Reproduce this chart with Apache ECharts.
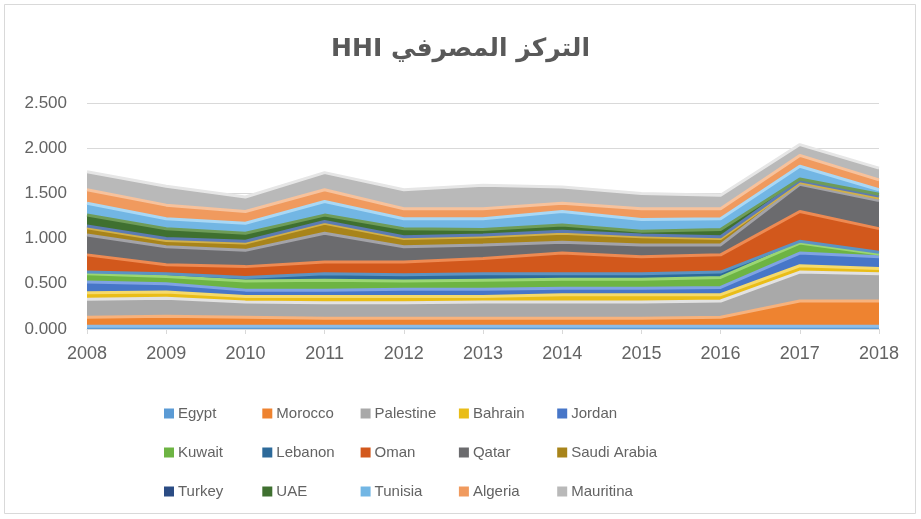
<!DOCTYPE html>
<html>
<head>
<meta charset="utf-8">
<script src="https://cdn.jsdelivr.net/npm/echarts@6/dist/echarts.min.js"></script>
<style>
  html, body { margin: 0; padding: 0; background: #ffffff; }
  #chart { width: 921px; height: 519px; }
</style>
</head>
<body>
<div id="chart"></div>
<script>
// Banking concentration (HHI) by country, stacked, 2008-2018
const years = ['2008', '2009', '2010', '2011', '2012', '2013', '2014', '2015', '2016', '2017', '2018'];

const egypt     = [0.03, 0.03, 0.03, 0.03, 0.03, 0.03, 0.03, 0.03, 0.03, 0.03, 0.03];
const morocco   = [0.10, 0.11, 0.10, 0.09, 0.09, 0.09, 0.09, 0.09, 0.10, 0.28, 0.28];
const palestine = [0.20, 0.20, 0.17, 0.17, 0.17, 0.18, 0.18, 0.18, 0.18, 0.32, 0.30];
const bahrain   = [0.07, 0.07, 0.06, 0.07, 0.07, 0.06, 0.08, 0.08, 0.07, 0.07, 0.06];
const jordan    = [0.12, 0.09, 0.07, 0.07, 0.08, 0.08, 0.07, 0.07, 0.08, 0.14, 0.13];
const kuwait    = [0.09, 0.08, 0.10, 0.11, 0.09, 0.10, 0.10, 0.10, 0.11, 0.11, 0.03];
const lebanon   = [0.02, 0.03, 0.04, 0.07, 0.07, 0.07, 0.06, 0.06, 0.06, 0.02, 0.02];
const oman      = [0.19, 0.10, 0.12, 0.13, 0.14, 0.17, 0.23, 0.19, 0.19, 0.33, 0.26];
const qatar     = [0.22, 0.20, 0.18, 0.32, 0.17, 0.15, 0.12, 0.13, 0.11, 0.30, 0.31];
const saudi     = [0.08, 0.07, 0.08, 0.11, 0.09, 0.09, 0.10, 0.09, 0.07, 0.02, 0.03];
const turkey    = [0.02, 0.02, 0.02, 0.02, 0.02, 0.02, 0.02, 0.02, 0.02, 0.02, 0.02];
const uae       = [0.12, 0.11, 0.09, 0.07, 0.09, 0.06, 0.07, 0.04, 0.08, 0.02, 0.02];
const tunisia   = [0.13, 0.11, 0.11, 0.15, 0.11, 0.12, 0.15, 0.13, 0.12, 0.14, 0.05];
const algeria   = [0.15, 0.15, 0.13, 0.13, 0.11, 0.11, 0.09, 0.12, 0.11, 0.12, 0.11];
const mauritina = [0.20, 0.21, 0.16, 0.19, 0.21, 0.26, 0.18, 0.17, 0.15, 0.12, 0.13];

const seriesNames = ['Egypt', 'Morocco', 'Palestine', 'Bahrain', 'Jordan',
                     'Kuwait', 'Lebanon', 'Oman', 'Qatar', 'Saudi Arabia',
                     'Turkey', 'UAE', 'Tunisia', 'Algeria', 'Mauritina'];
const seriesData = [egypt, morocco, palestine, bahrain, jordan,
                    kuwait, lebanon, oman, qatar, saudi,
                    turkey, uae, tunisia, algeria, mauritina];

const titleText = 'HHI التركز المصرفي';

// Fill colours and the lighter rim drawn along each band's upper edge
const fills = ['#5B9BD5', '#EE8330', '#A9A9A9', '#E9BD18', '#4776C8',
               '#6DB443', '#2D6A9A', '#D2581C', '#6B6B6E', '#A8841A',
               '#2B4C84', '#3F7030', '#72B6E4', '#F09A5E', '#B9B9B9'];
const rims  = ['#8DBDE8', '#F7B27C', '#E2E2E2', '#F6DA6A', '#7FA3E3',
               '#9BD673', '#5C93C2', '#EE8A52', '#A3A3A8', '#D1B04A',
               '#5C7BB3', '#6E9C58', '#A9D8F5', '#F7C29C', '#E6E6E6'];

const font = "'Liberation Sans', Arial, sans-serif";
const textGray = '#636363';

const series = seriesNames.map((name, i) => ({
  name: name,
  type: 'line',
  stack: 'hhi',
  data: seriesData[i],
  symbol: 'none',
  smooth: false,
  itemStyle: { color: fills[i] },
  lineStyle: { color: rims[i], width: 3 },
  areaStyle: { color: fills[i], opacity: 1 },
  emphasis: { disabled: true },
  z: 2
}));

// Legend laid out as a 5 x 3 table of items
const legends = seriesNames.map((name, i) => ({
  data: [name],
  left: 159 + (i % 5) * 98.3,
  top: 401 + Math.floor(i / 5) * 39,
  orient: 'horizontal',
  itemWidth: 10,
  itemHeight: 10,
  itemGap: 4,
  icon: 'rect',
  selectedMode: false,
  textStyle: { color: textGray, fontSize: 15, fontFamily: font, padding: [0, 0, 0, -1] }
}));

const chart = echarts.init(document.getElementById('chart'), null, { renderer: 'canvas' });
chart.setOption({
  backgroundColor: '#ffffff',
  animation: false,
  title: {
    text: titleText,
    left: 'center',
    top: 32,
    textStyle: { color: '#595959', fontSize: 25, fontWeight: 'bold', fontFamily: "'DejaVu Sans', 'Liberation Sans', sans-serif" }
  },
  legend: legends,
  grid: { left: 87, right: 42, top: 103, bottom: 190, containLabel: false },
  xAxis: {
    type: 'category',
    data: years,
    boundaryGap: false,
    axisLine: { lineStyle: { color: '#d9d9d9', width: 1 } },
    axisTick: { show: true, alignWithLabel: true, length: 5, lineStyle: { color: '#d9d9d9' } },
    axisLabel: { color: textGray, fontSize: 18, fontFamily: font, margin: 16 },
    splitLine: { show: false }
  },
  yAxis: {
    type: 'value',
    min: 0,
    max: 2.5,
    interval: 0.5,
    axisLine: { show: false },
    axisTick: { show: false },
    axisLabel: {
      color: textGray, fontSize: 17, fontFamily: font, margin: 20,
      formatter: v => v.toFixed(3)
    },
    splitLine: { lineStyle: { color: '#d9d9d9', width: 1 } }
  },
  series: series,
  graphic: [{
    type: 'rect',
    shape: { x: 4.5, y: 4.5, width: 911, height: 509 },
    style: { fill: 'none', stroke: '#d9d9d9', lineWidth: 1 },
    silent: true,
    z: 0
  }]
});
</script>
</body>
</html>
